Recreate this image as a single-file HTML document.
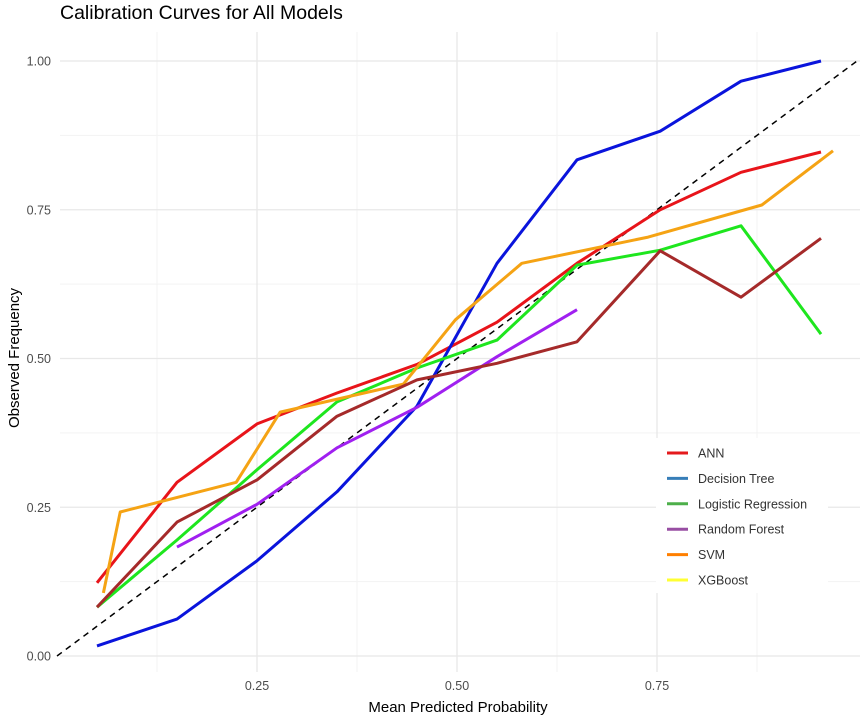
<!DOCTYPE html>
<html><head><meta charset="utf-8"><style>
body{margin:0;background:#fff;}
svg{display:block;font-family:"Liberation Sans",sans-serif;}
</style></head><body>
<svg id="chart" width="864" height="720">
<text x="60" y="19" font-size="19.5" fill="#000">Calibration Curves for All Models</text>
<g id="grid"></g>
<g id="yticks"></g>
<g id="xticks"></g>
<line x1="57" y1="656" x2="857" y2="61" stroke="#000" stroke-width="1.5" stroke-dasharray="6,5"/>
<g id="series"></g>
<text x="458" y="712" font-size="15" text-anchor="middle" fill="#000">Mean Predicted Probability</text>
<text transform="translate(19,358) rotate(-90)" font-size="15" text-anchor="middle" fill="#000">Observed Frequency</text>
<g id="legend"></g>
</svg>
<script>
const tickVals=[0,0.25,0.5,0.75,1];
const tickLabels=["0.00","0.25","0.50","0.75","1.00"];
const minorVals=[0.125,0.375,0.625,0.875];
const seriesNames=["ANN","Decision Tree","Logistic Regression","Random Forest","SVM","XGBoost"];
const legendColors=["#e41a1c","#377eb8","#4daf4a","#984ea3","#ff7f00","#ffff33"];
const annX=[0.05,0.15,0.25,0.35,0.45,0.55,0.65,0.754,0.855,0.955];
const annY=[0.123,0.292,0.39,0.442,0.49,0.561,0.66,0.75,0.813,0.847];
const dtX=[0.05,0.15,0.25,0.35,0.45,0.55,0.65,0.754,0.855,0.955];
const dtY=[0.017,0.062,0.16,0.276,0.42,0.66,0.834,0.882,0.966,1.0];
const lrX=[0.05,0.15,0.25,0.35,0.45,0.55,0.65,0.754,0.855,0.955];
const lrY=[0.082,0.195,0.313,0.427,0.484,0.531,0.657,0.682,0.723,0.541];
const rfX=[0.15,0.25,0.35,0.45,0.55,0.65];
const rfY=[0.183,0.255,0.35,0.418,0.503,0.582];
const svmX=[0.058,0.079,0.224,0.279,0.433,0.498,0.581,0.739,0.881,0.97];
const svmY=[0.106,0.242,0.292,0.41,0.457,0.565,0.66,0.704,0.758,0.849];
const xgbX=[0.05,0.15,0.25,0.35,0.45,0.55,0.65,0.754,0.855,0.955];
const xgbY=[0.082,0.225,0.296,0.403,0.464,0.492,0.528,0.681,0.603,0.702];
const lineColors=["#e8141a","#0a14dc","#1ee61e","#a020f0","#f5a314","#a52a2a"];
const drawOrder=[["ANN",annX,annY,0],["Decision Tree",dtX,dtY,1],["Logistic Regression",lrX,lrY,2],["Random Forest",rfX,rfY,3],["SVM",svmX,svmY,4],["XGBoost",xgbX,xgbY,5]];

const NS="http://www.w3.org/2000/svg";
function sx(v){return 57+800*v;}
function sy(v){return 656-595*v;}
function mk(tag,attrs,parent){const e=document.createElementNS(NS,tag);for(const k in attrs)e.setAttribute(k,attrs[k]);parent.appendChild(e);return e;}
const grid=document.getElementById('grid');
minorVals.forEach(v=>{
  const a=mk('line',{x1:60,x2:860,y1:sy(v),y2:sy(v),stroke:'#f3f3f3','stroke-width':1},grid);
  
  
  const b=mk('line',{x1:sx(v),x2:sx(v),y1:32,y2:672,stroke:'#f3f3f3','stroke-width':1},grid);
  
  
});
tickVals.forEach(v=>{
  const a=mk('line',{x1:60,x2:860,y1:sy(v),y2:sy(v),stroke:'#e8e8e8','stroke-width':1.3},grid);
  
  
  if(v>0&&v<1){
    const b=mk('line',{x1:sx(v),x2:sx(v),y1:32,y2:672,stroke:'#e8e8e8','stroke-width':1.3},grid);
    
    
  }
});
const yt=document.getElementById('yticks');
tickVals.forEach((v,i)=>{
  const t=mk('text',{x:51,y:sy(v)+4.5,'font-size':12.5,'text-anchor':'end',fill:'#4d4d4d'},yt);
  t.textContent=tickLabels[i];
  
  
});
const xt=document.getElementById('xticks');
tickVals.forEach((v,i)=>{
  if(v<=0||v>=1)return;
  const t=mk('text',{x:sx(v),y:690,'font-size':12.5,'text-anchor':'middle',fill:'#4d4d4d'},xt);
  t.textContent=tickLabels[i];
  
  
});
const sg=document.getElementById('series');
drawOrder.forEach(s=>{
  const xs=s[1],ys=s[2];
  const pts=xs.map((x,i)=>sx(x).toFixed(1)+','+sy(ys[i]).toFixed(1)).join(' ');
  const p=mk('polyline',{points:pts,fill:'none',stroke:lineColors[s[3]],'stroke-width':3,'stroke-linejoin':'round'},sg);
  
  
});
const lg=document.getElementById('legend');
const bg=mk('rect',{x:656,y:438,width:172,height:155,fill:'#fff'},lg);


seriesNames.forEach((n,i)=>{
  const y=453+25.4*i;
  const g=mk('g',{},lg);
  
  
  mk('line',{x1:667,x2:688,y1:y,y2:y,stroke:legendColors[i],'stroke-width':3},g);
  const t=mk('text',{x:698,y:y+4.5,'font-size':12.5,fill:'#333'},g);
  t.textContent=n;
});
</script>
</body></html>
